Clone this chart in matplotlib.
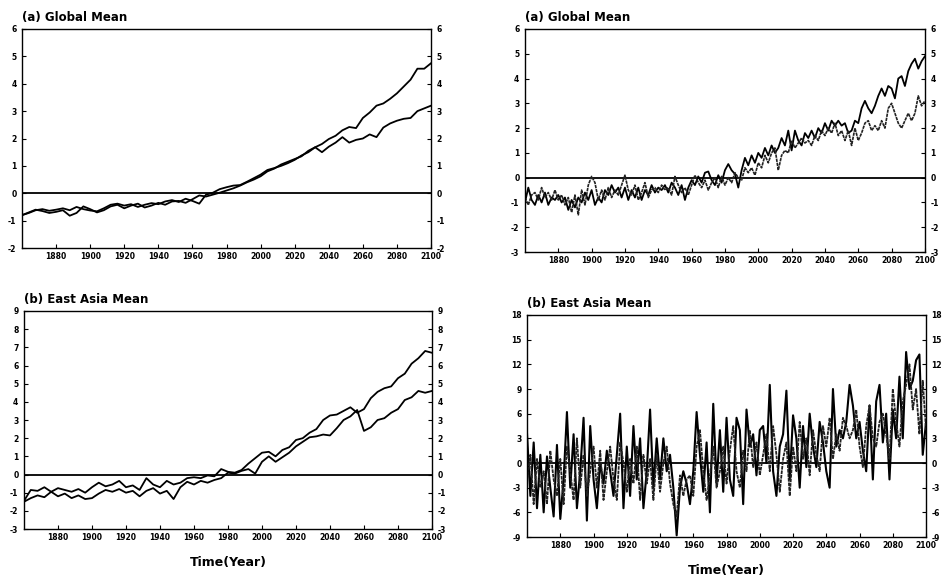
import numpy as np
import matplotlib
matplotlib.use("Agg")
import matplotlib.pyplot as plt

# ---------------- data ----------------
years4 = list(range(1860, 2101, 4))
years2 = list(range(1860, 2101, 2))

# Left (a) Global Mean, smoothed series
glob_smooth_a = [-0.80, -0.72, -0.62, -0.58, -0.64, -0.60, -0.55, -0.62, -0.50, -0.58,
                 -0.63, -0.66, -0.55, -0.42, -0.38, -0.45, -0.40, -0.50, -0.42, -0.36,
                 -0.40, -0.30, -0.25, -0.32, -0.20, -0.28, -0.38, -0.05, 0.02, 0.15,
                 0.22, 0.28, 0.30, 0.42, 0.55, 0.68, 0.85, 0.92, 1.00, 1.10,
                 1.22, 1.38, 1.50, 1.68, 1.80, 1.98, 2.10, 2.30, 2.42, 2.38,
                 2.75, 2.95, 3.20, 3.28, 3.45, 3.65, 3.90, 4.15, 4.55, 4.55, 4.75]
glob_smooth_b = [-0.80, -0.70, -0.60, -0.65, -0.72, -0.68, -0.62, -0.82, -0.72, -0.48,
                 -0.58, -0.70, -0.62, -0.48, -0.42, -0.55, -0.45, -0.38, -0.52, -0.45,
                 -0.35, -0.42, -0.30, -0.28, -0.35, -0.22, -0.08, -0.12, -0.05, 0.02,
                 0.10, 0.18, 0.28, 0.40, 0.50, 0.62, 0.80, 0.90, 1.05, 1.15,
                 1.25, 1.35, 1.55, 1.68, 1.50, 1.70, 1.85, 2.05, 1.85, 1.95,
                 2.00, 2.15, 2.05, 2.40, 2.55, 2.65, 2.72, 2.75, 3.00, 3.10, 3.20]

# Left (b) East Asia Mean, smoothed series
ea_smooth_a = [-1.45, -0.85, -0.90, -0.70, -0.95, -0.75, -0.85, -0.95, -0.80, -1.00,
               -0.70, -0.45, -0.65, -0.55, -0.35, -0.70, -0.60, -0.85, -0.20, -0.55,
               -0.70, -0.35, -0.55, -0.45, -0.20, -0.15, -0.20, -0.05, -0.10, 0.30,
               0.15, 0.10, 0.25, 0.60, 0.90, 1.20, 1.25, 1.00, 1.35, 1.50,
               1.90, 2.00, 2.30, 2.50, 3.00, 3.25, 3.30, 3.50, 3.70, 3.40,
               3.60, 4.20, 4.55, 4.75, 4.85, 5.30, 5.55, 6.10, 6.40, 6.80, 6.70]
ea_smooth_b = [-1.50, -1.30, -1.15, -1.25, -0.95, -1.20, -1.05, -1.30, -1.15, -1.35,
               -1.30, -1.05, -0.85, -0.95, -0.80, -1.00, -0.90, -1.20, -0.90, -0.75,
               -1.05, -0.90, -1.35, -0.70, -0.40, -0.55, -0.35, -0.45, -0.30, -0.20,
               0.10, 0.05, 0.20, 0.30, 0.05, 0.70, 1.00, 0.70, 0.95, 1.20,
               1.55, 1.80, 2.05, 2.10, 2.20, 2.15, 2.55, 3.00, 3.20, 3.55,
               2.40, 2.60, 3.00, 3.10, 3.40, 3.60, 4.10, 4.25, 4.60, 4.50, 4.60]

# Right (a) Global Mean, annual-type series
glob_raw_a = [-1.0, -0.4, -0.9, -1.1, -0.7, -1.0, -0.6, -1.1, -0.8, -0.9,
              -0.7, -1.0, -0.8, -1.3, -0.9, -1.2, -0.8, -1.0, -0.6, -0.9,
              -0.5, -1.1, -0.8, -1.0, -0.5, -0.7, -0.3, -0.6, -0.4, -0.8,
              -0.4, -0.9, -0.5, -0.8, -0.4, -0.9, -0.5, -0.7, -0.3, -0.6,
              -0.4, -0.5, -0.3, -0.6, -0.2, -0.4, -0.7, -0.3, -0.9, -0.4,
              -0.1, -0.3, 0.05, -0.2, 0.2, 0.25, -0.1, -0.3, 0.1, -0.2,
              0.3, 0.55, 0.3, 0.15, -0.4, 0.3, 0.8, 0.5, 0.9, 0.6,
              1.0, 0.8, 1.2, 0.9, 1.3, 1.0, 1.2, 1.6, 1.3, 1.9,
              1.1, 1.9, 1.5, 1.3, 1.8, 1.6, 1.9, 1.6, 2.0, 1.8,
              2.2, 1.9, 2.3, 2.1, 2.3, 2.1, 2.2, 1.8, 1.9, 2.3,
              2.2, 2.8, 3.1, 2.8, 2.6, 2.9, 3.3, 3.6, 3.3, 3.7,
              3.6, 3.2, 4.0, 4.1, 3.7, 4.3, 4.6, 4.8, 4.4, 4.7, 4.9]
glob_raw_b = [-0.8, -1.1, -0.7, -0.6, -0.9, -0.4, -0.8, -0.6, -0.9, -0.5,
              -0.9, -0.7, -1.1, -0.8, -1.4, -0.7, -1.5, -0.5, -1.1, -0.3,
              0.05, -0.2, -0.9, -0.5, -0.9, -0.4, -0.8, -0.5, -0.7, -0.3,
              0.1, -0.5, -0.7, -0.3, -0.9, -0.6, -0.2, -0.8, -0.5, -0.4,
              -0.6, -0.3, -0.5, -0.4, -0.7, 0.05, -0.3, -0.6, -0.4, -0.7,
              -0.3, 0.1, -0.2, -0.4, -0.1, -0.5, -0.2, 0.0, -0.4, 0.05,
              -0.3, 0.0, -0.2, 0.2, 0.0, -0.1, 0.4, 0.2, 0.4, 0.1,
              0.6, 0.4, 0.9, 0.6, 1.0, 1.2, 0.3, 0.9, 1.1, 1.0,
              1.5, 1.2, 1.4, 1.6, 1.4, 1.5, 1.3, 1.7, 1.5, 1.9,
              1.7, 2.0, 1.8, 2.2, 1.7, 1.9, 1.5, 1.9, 1.3, 2.0,
              1.5, 1.8, 2.2, 2.3, 1.9, 2.1, 1.9, 2.3, 2.0, 2.8,
              3.0, 2.6, 2.2, 2.0, 2.3, 2.6, 2.3, 2.6, 3.3, 2.9, 3.1]

# Right (b) East Asia Mean, annual-type series
ea_raw_a = [3.5, -4.0, 2.5, -5.5, 1.0, -6.0, 0.8, -3.0, -6.5, 2.2,
            -6.8, -2.0, 6.2, -3.0, 3.5, -5.5, -1.0, 5.5, -7.0, 4.5,
            -2.0, -5.5, 0.0, -2.5, 1.5, -1.0, -4.0, 1.0, 6.0, -5.5,
            2.0, -4.0, 4.5, -2.0, 3.0, -5.5, -1.0, 6.5, -3.0, 3.0,
            -2.0, 3.0, -1.0, 1.0, -3.0, -8.8, -3.0, -1.0, -2.5, -5.0,
            -1.0, 6.2, 1.0, -3.5, 2.5, -6.0, 7.2, -2.5, 4.0, -3.5,
            5.5, -2.0, -4.0, 5.5, 4.0, -5.0, 6.5, 2.0, 3.5, -1.5,
            4.0, 4.5, 0.0, 9.5, -1.0, -4.0, 2.0, 3.5, 8.8, -2.0,
            5.8, 3.0, -3.0, 4.5, -0.5, 6.0, 2.0, -0.5, 5.0, 2.5,
            -1.0, -3.0, 9.0, 2.0, 4.0, 3.0, 5.0, 9.5, 7.0, 3.0,
            5.0, 1.5, -1.0, 7.0, -2.0, 7.5, 9.5, 2.5, 6.0, -2.0,
            6.5, 3.0, 10.5, 3.0, 13.5, 9.0, 10.0, 12.5, 13.2, 1.0, 5.0]
ea_raw_b = [-2.0, 1.0, -5.0, 0.5, -3.0, -1.0, -5.0, 1.5, -2.0, -4.0,
            0.5, -5.0, 2.0, -1.0, -4.5, 3.0, -3.0, 1.0, -4.0, -1.0,
            2.0, -3.0, 1.5, -4.5, -1.0, 2.0, -2.0, -4.5, 2.5, 0.0,
            -3.5, 0.5, -2.5, 2.0, -4.5, 1.0, -2.5, 0.5, -4.5, 1.0,
            -3.5, 0.0, 2.0, -2.5, -5.0, -6.5, -1.5, -4.0, -2.0, -1.5,
            -4.0, 2.0, 4.0, -1.0, -4.5, -1.5, 2.0, -3.0, -1.0, 2.0,
            -2.5, 1.5, 4.5, -1.0, -3.0, 1.5, -1.0, 4.0, -0.5, 2.5,
            -1.5, 1.0, 3.5, -1.0, 4.5, 1.0, -3.5, 0.5, 2.5, -4.0,
            2.0, -1.0, 5.0, 0.5, 3.0, -1.5, 4.0, 1.0, -1.0, 4.5,
            2.0, 5.5, 0.5, 3.5, 1.5, 5.5, 4.5, 3.0, 4.0, 6.5,
            2.0, -0.5, 4.5, 7.0, 3.0, 2.0, 5.0, 6.0, 3.5, 0.5,
            9.0, 5.0, 2.0, 7.5, 9.5, 12.0, 6.5, 9.0, 3.5, 10.0, 4.0]

xticks = list(range(1880, 2101, 20))
title_a = "(a) Global Mean"
title_b = "(b) East Asia Mean"
xlabel = "Time(Year)"

# ---------------- drawing ----------------
plt.rcParams['font.family'] = ['DejaVu Sans']
fig = plt.figure(figsize=(9.44, 5.80), dpi=100)

def setup(ax, ylim, yticks):
    ax.set_xlim(1860, 2100)
    ax.set_ylim(*ylim)
    ax.set_xticks(xticks)
    ax.set_xticklabels([str(t) for t in xticks], fontsize=5.5, fontweight='bold')
    ax.set_yticks(yticks)
    ax.set_yticklabels([str(t) for t in yticks], fontsize=5.5, fontweight='bold')
    ax.tick_params(axis='both', direction='in', length=3, width=0.8, pad=3,
                   right=True, labelright=True, top=False)
    ax.tick_params(axis='y', pad=4)
    ax.axhline(0, color='black', lw=1.3, zorder=1)
    for s in ax.spines.values():
        s.set_linewidth(1.0)

axes_pos = {
    'lt': [0.0233, 0.5724, 0.4333, 0.3776],
    'rt': [0.5561, 0.5655, 0.4237, 0.3845],
    'lb': [0.0254, 0.0879, 0.4322, 0.3759],
    'rb': [0.5583, 0.0741, 0.4227, 0.3828],
}

ax1 = fig.add_axes(axes_pos['lt'])
ax1.plot(years4, glob_smooth_a, color='black', lw=1.3)
ax1.plot(years4, glob_smooth_b, color='black', lw=1.3)
setup(ax1, (-2, 6), list(range(-2, 7)))
ax1.set_title(title_a, loc='left', fontsize=8.5, fontweight='bold', pad=6)

ax2 = fig.add_axes(axes_pos['rt'])
ax2.plot(years2, glob_raw_a, color='black', lw=1.3)
ax2.plot(years2, glob_raw_b, color='#222222', lw=1.2, ls=(0, (2, 0.5)))
setup(ax2, (-3, 6), list(range(-3, 7)))
ax2.set_title(title_a, loc='left', fontsize=8.5, fontweight='bold', pad=6)

ax3 = fig.add_axes(axes_pos['lb'])
ax3.plot(years4, ea_smooth_a, color='black', lw=1.3)
ax3.plot(years4, ea_smooth_b, color='black', lw=1.3)
setup(ax3, (-3, 9), list(range(-3, 10)))
ax3.set_title(title_b, loc='left', fontsize=8.5, fontweight='bold', pad=6)
ax3.set_xlabel(xlabel, fontsize=9, fontweight='bold', labelpad=10)

ax4 = fig.add_axes(axes_pos['rb'])
ax4.plot(years2, ea_raw_a, color='black', lw=1.5)
ax4.plot(years2, ea_raw_b, color='#222222', lw=1.3, ls=(0, (2, 0.5)))
setup(ax4, (-9, 18), list(range(-9, 19, 3)))
ax4.set_title(title_b, loc='left', fontsize=8.5, fontweight='bold', pad=6)
ax4.set_xlabel(xlabel, fontsize=9, fontweight='bold', labelpad=10)

fig.savefig("out.png", dpi=100)
